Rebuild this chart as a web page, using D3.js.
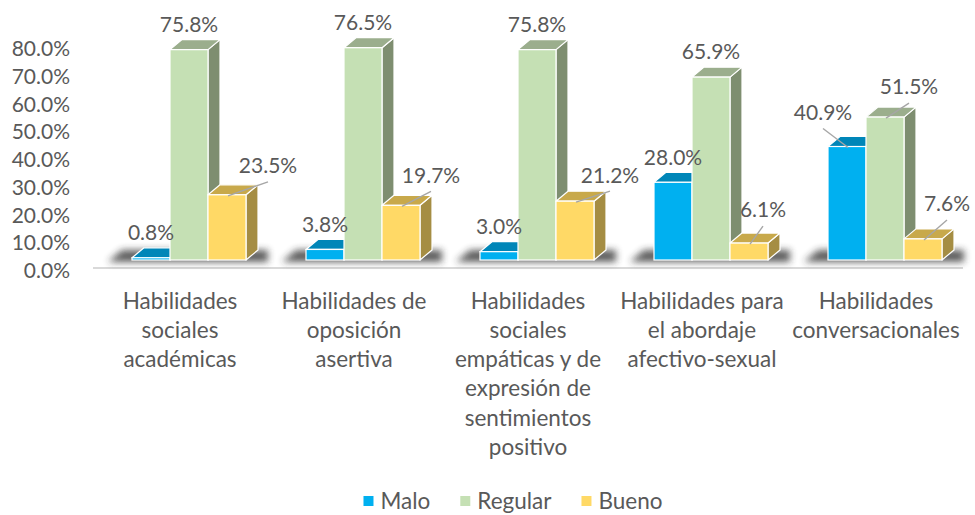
<!DOCTYPE html>
<html>
<head>
<meta charset="utf-8">
<script src="https://cdn.jsdelivr.net/npm/d3@7"></script>
<style>
  body { margin: 0; background: #fff; }
  text { font-family: Lato, "Open Sans", sans-serif; fill: #595959; }
</style>
</head>
<body>
<svg id="chart" width="975" height="515"></svg>
<script>
// data
const categories = [
  "Habilidades\nsociales\nacadémicas",
  "Habilidades de\noposición\nasertiva",
  "Habilidades\nsociales\nempáticas y de\nexpresión de\nsentimientos\npositivo",
  "Habilidades para\nel abordaje\nafectivo-sexual",
  "Habilidades\nconversacionales"
];
const seriesNames = ["Malo", "Regular", "Bueno"];
const malo = [0.8, 3.8, 3.0, 28.0, 40.9];
const regular = [75.8, 76.5, 75.8, 65.9, 51.5];
const bueno = [23.5, 19.7, 21.2, 6.1, 7.6];
const yTicks = [0, 10, 20, 30, 40, 50, 60, 70, 80];

const values = [malo, regular, bueno];

// face colours (front, top, side)
const faces = [
  { front: "#00B0F0", top: "#0086B8", side: "#00719C" },
  { front: "#C5E0B4", top: "#9BAE8D", side: "#7E8E70" },
  { front: "#FFD966", top: "#C8A94B", side: "#A58D43" }
];

// labels excel moved off the bar (series index, category index) -> pixel nudge
const labelShift = {
  "2-0": [41, -4],
  "2-1": [30, -5],
  "2-2": [35, -1],
  "2-3": [14, -8],
  "0-4": [-24, -9],
  "1-4": [24, -5],
  "2-4": [24, -10]
};

const svg = d3.select("#chart");
const depthX = 12, depthY = -10;   // 3d depth offset
const frontDrop = 11;              // front plane sits below the axis plane

const x = d3.scaleBand().domain(d3.range(categories.length)).range([93, 963]);
const xs = d3.scaleBand().domain(d3.range(seriesNames.length)).range([39, 153]);
const y = d3.scaleLinear().domain([0, 80]).range([271, 49]);
const yb = v => y(v) - frontDrop;

// blur for floor shadows
const defs = svg.append("defs");
defs.append("filter").attr("id", "blur")
  .attr("x", "-20%").attr("y", "-100%").attr("width", "140%").attr("height", "300%")
  .append("feGaussianBlur").attr("stdDeviation", 3.5);

// floor line
svg.append("line")
  .attr("x1", x.range()[0]).attr("x2", x.range()[1])
  .attr("y1", y(0) - 3).attr("y2", y(0) - 3)
  .attr("stroke", "#D9D9D9").attr("stroke-width", 2);

// y axis
const yAxis = svg.append("g")
  .attr("transform", "translate(70,0)")
  .call(d3.axisLeft(y).tickValues(yTicks).tickSize(0).tickPadding(0)
    .tickFormat(d => d.toFixed(1) + "%"));
yAxis.select(".domain").remove();
yAxis.selectAll("text").attr("font-size", 21).attr("font-family", null).attr("fill", null);
yAxis.attr("font-family", null).attr("font-size", null);

// groups
const groups = svg.selectAll("g.grp").data(categories).join("g")
  .attr("class", "grp")
  .attr("transform", (d, i) => `translate(${x(i)},0)`);

// shadow under each cluster
groups.append("path")
  .attr("d", () => {
    const l = xs(0) - 24, r = xs(2) + xs.bandwidth() + depthX + 10;
    const b = yb(0) + 2, t = yb(0) - 10;
    return `M${l},${b}L${l + 14},${t}L${r},${t}L${r},${b}Z`;
  })
  .attr("fill", "#2b2b2b").attr("opacity", 0.75)
  .attr("filter", "url(#blur)");

seriesNames.forEach((s, si) => {
  const f = faces[si];
  groups.each(function (d, ci) {
    const g = d3.select(this);
    const v = values[si][ci];
    const x0 = xs(si), x1 = xs(si) + xs.bandwidth();
    const top = yb(v), base = yb(0);
    g.append("path")
      .attr("d", `M${x1},${top}L${x1 + depthX},${top + depthY}L${x1 + depthX},${base + depthY}L${x1},${base}Z`)
      .attr("fill", f.side).attr("stroke", "#fff").attr("stroke-width", 1.2).attr("stroke-linejoin", "round");
    g.append("path")
      .attr("d", `M${x0},${top}L${x0 + depthX},${top + depthY}L${x1 + depthX},${top + depthY}L${x1},${top}Z`)
      .attr("fill", f.top).attr("stroke", "#fff").attr("stroke-width", 1.2).attr("stroke-linejoin", "round");
    g.append("rect")
      .attr("x", x0).attr("y", top)
      .attr("width", xs.bandwidth()).attr("height", base - top)
      .attr("fill", f.front).attr("stroke", "#fff").attr("stroke-width", 1.2);
  });
});

// value labels (+ leader lines for the moved ones)
seriesNames.forEach((s, si) => {
  groups.each(function (d, ci) {
    const g = d3.select(this);
    const v = values[si][ci];
    const cx = xs(si) + xs.bandwidth() / 2;
    const top = yb(v);
    const sh = labelShift[si + "-" + ci] || [0, 0];
    const lx = cx + sh[0], ly = top - 25 + sh[1];
    if (labelShift[si + "-" + ci]) {
      g.append("line")
        .attr("x1", lx).attr("y1", ly + 16)
        .attr("x2", cx + 1).attr("y2", top + 1)
        .attr("stroke", "#A6A6A6").attr("stroke-width", 1.4);
    }
    g.append("text")
      .attr("x", lx).attr("y", ly).attr("dy", "0.35em")
      .attr("text-anchor", "middle").attr("font-size", 21)
      .text(v.toFixed(1) + "%");
  });
});

// category labels
groups.append("text")
  .attr("text-anchor", "middle").attr("font-size", 22.5)
  .each(function (d) {
    const t = d3.select(this);
    d.split("\n").forEach((line, li) => {
      t.append("tspan")
        .attr("x", x.bandwidth() / 2)
        .attr("y", 300.7 + li * 29.3)
        .attr("dy", "0.35em")
        .text(line);
    });
  });

// legend
const legend = svg.append("g");
let lx = 0;
const items = legend.selectAll("g").data(seriesNames).join("g");
items.append("rect").attr("y", -5).attr("width", 10).attr("height", 10)
  .attr("fill", (d, i) => faces[i].front);
items.append("text").attr("x", 17).attr("dy", "0.35em").attr("font-size", 22.5).text(d => d);
items.each(function () {
  const g = d3.select(this);
  const w = 17 + g.select("text").node().getComputedTextLength();
  g.attr("transform", `translate(${lx},0)`);
  lx += w + 30;
});
const legendW = lx - 30;
legend.attr("transform", `translate(${513 - legendW / 2},501)`);
</script>
</body>
</html>
